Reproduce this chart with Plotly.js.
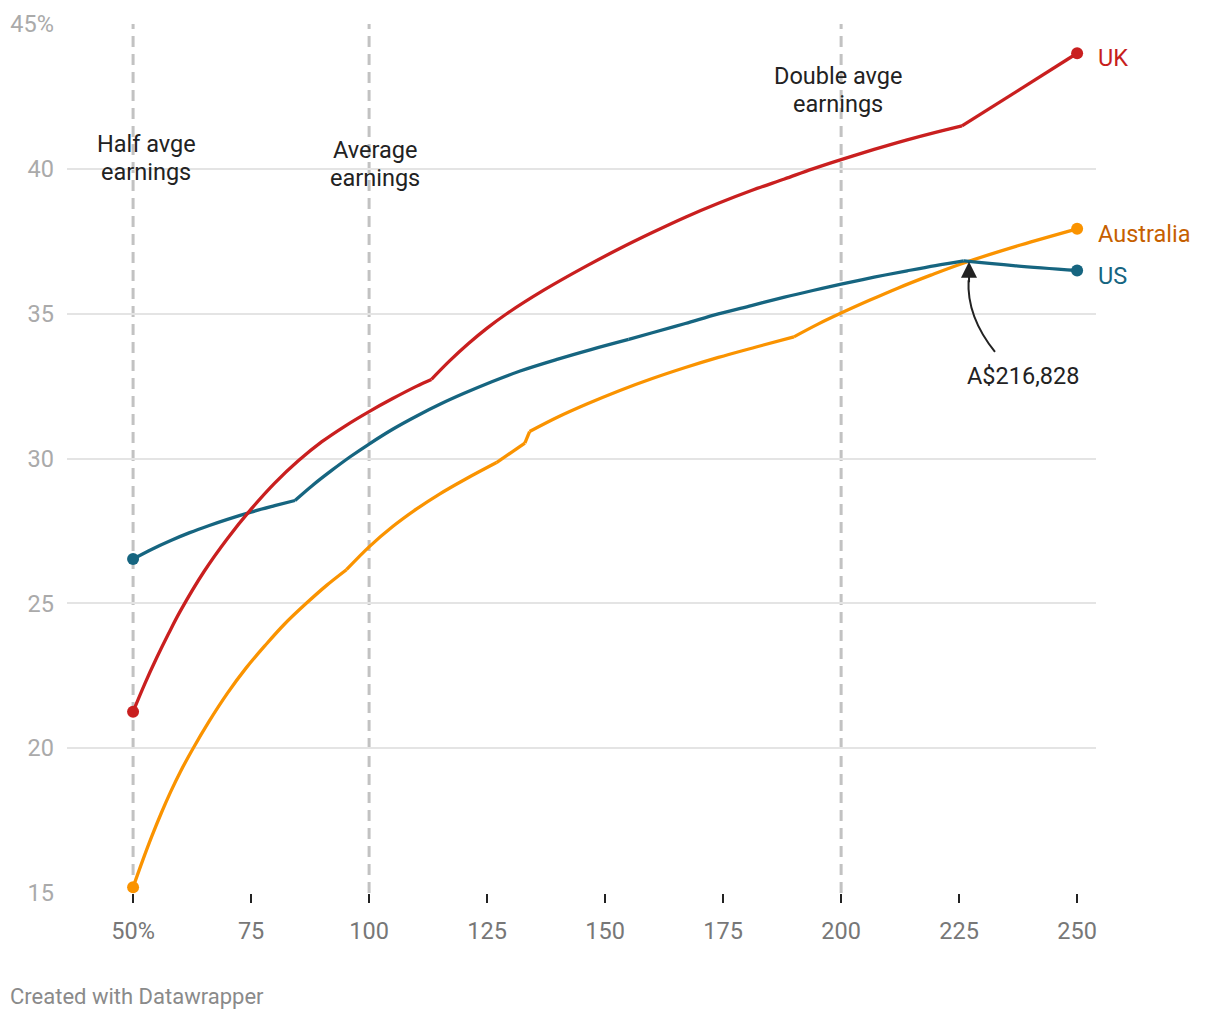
<!DOCTYPE html>
<html>
<head>
<meta charset="utf-8">
<script src="https://cdn.plot.ly/plotly-3.0.1.min.js"></script>
<style>
html,body{margin:0;padding:0;background:#fff;}
#chart{width:1220px;height:1020px;}
</style>
</head>
<body>
<div id="chart"></div>
<script>
// Earnings as % of average earnings (x) vs tax rate % (y)
const ukX = [50, 52.5, 55, 57.5, 60, 65, 70, 75, 80, 85, 90, 95, 100, 105, 110, 113.2, 117, 121, 125, 129, 137, 146, 153, 160, 167, 174, 181, 188, 194, 200, 207, 214, 220, 225.6, 250];
const ukY = [21.26, 22.23, 23.12, 23.95, 24.73, 26.09, 27.24, 28.25, 29.15, 29.92, 30.58, 31.13, 31.62, 32.07, 32.49, 32.73, 33.36, 33.96, 34.5, 34.98, 35.81, 36.64, 37.24, 37.8, 38.33, 38.81, 39.25, 39.65, 40.0, 40.32, 40.67, 41.0, 41.26, 41.48, 43.99];
const ukKinks = [113.2, 225.6];

const usX = [50, 54, 58, 62, 66, 70, 75, 80, 84.3, 88, 92, 96, 100, 105, 110, 115, 120, 126, 132, 140, 147, 155, 160, 167, 174, 181, 188, 194, 200, 207, 214, 220, 226, 236.5, 250];
const usY = [26.53, 26.87, 27.17, 27.44, 27.68, 27.9, 28.15, 28.37, 28.55, 29.07, 29.58, 30.06, 30.5, 31.01, 31.46, 31.87, 32.24, 32.65, 33.02, 33.43, 33.76, 34.11, 34.34, 34.66, 34.99, 35.28, 35.57, 35.8, 36.02, 36.26, 36.48, 36.66, 36.82, 36.66, 36.49];
const usKinks = [84.3, 155, 226];

const auX = [50, 52, 54, 56, 58, 60, 62.7, 66, 70, 74, 78, 82, 86.7, 91, 95.2, 100, 105, 110, 115, 120, 127, 133, 134, 140, 146, 153, 160, 167, 174, 182, 190, 195, 200, 206, 212, 219, 226, 238, 250];
const auY = [15.2, 16.11, 16.97, 17.77, 18.51, 19.18, 19.99, 20.9, 21.9, 22.78, 23.55, 24.27, 25.0, 25.62, 26.16, 26.95, 27.65, 28.25, 28.78, 29.25, 29.86, 30.53, 30.93, 31.43, 31.87, 32.34, 32.76, 33.14, 33.49, 33.85, 34.2, 34.63, 35.02, 35.46, 35.88, 36.33, 36.75, 37.37, 37.93];
const auKinks = [95.2, 127, 133, 134, 190];

const xTickVals = [50, 75, 100, 125, 150, 175, 200, 225, 250];
const xTickText = ['50%', '75', '100', '125', '150', '175', '200', '225', '250'];
const yTickVals = [15, 20, 25, 30, 35, 40, 45];
const yTickText = ['15', '20', '25', '30', '35', '40', '45%'];

const refLinesX = [50, 100, 200];
const refLabels = [['Half avge', 'earnings'], ['Average', 'earnings'], ['Double avge', 'earnings']];
const refLabelY = [40.38, 40.17, 42.72];
const refLabelShift = [13, 6, -3];

const seriesNames = ['UK', 'Australia', 'US'];
const calloutText = 'A$216,828';
const calloutFrom = [232.6, 33.68];
const calloutTo = [227.1, 36.79];

const COL = {
  uk: '#c91f1f', ukText: '#c71e1d',
  us: '#166580', usText: '#176581',
  au: '#fa9300', auText: '#c65f00'
};

function segments(xs, ys, kinks) {
  const segs = [];
  let cur = {x: [], y: []};
  xs.forEach((v, i) => {
    cur.x.push(v); cur.y.push(ys[i]);
    if (kinks.indexOf(v) >= 0 && i > 0 && i < xs.length - 1) {
      segs.push(cur);
      cur = {x: [v], y: [ys[i]]};
    }
  });
  segs.push(cur);
  return segs;
}

const data = [];
function addSeries(xs, ys, kinks, color, name) {
  segments(xs, ys, kinks).forEach(s => {
    data.push({
      x: s.x, y: s.y, type: 'scatter', mode: 'lines', name: name,
      line: {color: color, width: 3.3, shape: s.x.length > 2 ? 'spline' : 'linear', smoothing: 1},
      hoverinfo: 'skip', showlegend: false
    });
  });
  data.push({
    x: [xs[0], xs[xs.length - 1]], y: [ys[0], ys[ys.length - 1]],
    type: 'scatter', mode: 'markers', name: name,
    marker: {color: color, size: 12, opacity: 1, line: {width: 0}},
    hoverinfo: 'skip', showlegend: false, cliponaxis: false
  });
}
addSeries(auX, auY, auKinks, COL.au, 'Australia');
addSeries(usX, usY, usKinks, COL.us, 'US');
addSeries(ukX, ukY, ukKinks, COL.uk, 'UK');

const FONT = 'Roboto, "Noto Sans", sans-serif';

const shapes = refLinesX.map(v => ({
  type: 'line', xref: 'x', yref: 'y', x0: v, x1: v, y0: 15, y1: 45,
  line: {color: '#c2c2c2', width: 3, dash: '11px,7px'}, layer: 'below'
}));
// curved annotation pointer
shapes.push({
  type: 'path', xref: 'x', yref: 'y',
  path: 'M ' + calloutFrom[0] + ',' + calloutFrom[1] + ' Q 226.6,34.9 227.0,36.15',
  line: {color: '#222', width: 2}, layer: 'above'
});

const annotations = [];
refLinesX.forEach((v, i) => {
  refLabels[i].forEach((t, j) => {
    annotations.push({
      x: v, y: refLabelY[i], xref: 'x', yref: 'y', text: t,
      showarrow: false, xanchor: 'center', yanchor: 'middle',
      xshift: refLabelShift[i], yshift: j === 0 ? 14 : -14,
      font: {family: FONT, size: 23.5, color: '#222'}
    });
  });
});
const endY = [ukY[ukY.length - 1], auY[auY.length - 1], usY[usY.length - 1]];
const endCol = [COL.ukText, COL.auText, COL.usText];
seriesNames.forEach((n, i) => {
  annotations.push({
    x: 250, y: endY[i], xref: 'x', yref: 'y', text: n, showarrow: false,
    xanchor: 'left', yanchor: 'middle', xshift: 19, yshift: -5,
    font: {family: FONT, size: 23.5, color: endCol[i]}
  });
});
annotations.push({
  x: calloutFrom[0], y: calloutFrom[1], xref: 'x', yref: 'y', text: calloutText, showarrow: false,
  xanchor: 'center', yanchor: 'top', yshift: -8, xshift: 28,
  font: {family: FONT, size: 23.5, color: '#222'}
});
annotations.push({
  x: calloutTo[0], y: calloutTo[1], xref: 'x', yref: 'y', text: '', showarrow: true,
  ax: 0, ay: 22, arrowhead: 2, arrowsize: 1.6, arrowwidth: 2, arrowcolor: '#222', standoff: 0
});
annotations.push({
  x: 0, y: 0, xref: 'paper', yref: 'paper', xanchor: 'left', yanchor: 'middle',
  text: 'Created with Datawrapper', showarrow: false,
  xshift: -59, yshift: -103,
  font: {family: FONT, size: 22, color: '#8a8a8a'}
});

const layout = {
  width: 1220, height: 1020,
  margin: {l: 67, r: 124, t: 24, b: 127},
  paper_bgcolor: '#fff', plot_bgcolor: '#fff',
  font: {family: FONT},
  showlegend: false,
  xaxis: {
    range: [36, 254], tickvals: xTickVals, ticktext: xTickText,
    showgrid: false, zeroline: false, showline: false,
    ticks: 'outside', ticklen: 9, tickwidth: 2, tickcolor: '#222',
    ticklabelstandoff: 8,
    tickfont: {family: FONT, size: 23.5, color: '#777'}, fixedrange: true
  },
  yaxis: {
    range: [15, 45], tickvals: yTickVals, ticktext: yTickText,
    showgrid: true, gridcolor: '#e4e4e4', gridwidth: 2, zeroline: false, showline: false,
    ticks: '', ticklabelstandoff: 12,
    tickfont: {family: FONT, size: 23.5, color: '#aaa'}, fixedrange: true
  },
  shapes: shapes,
  annotations: annotations
};

Plotly.newPlot('chart', data, layout, {displayModeBar: false, staticPlot: true});
</script>
</body>
</html>
